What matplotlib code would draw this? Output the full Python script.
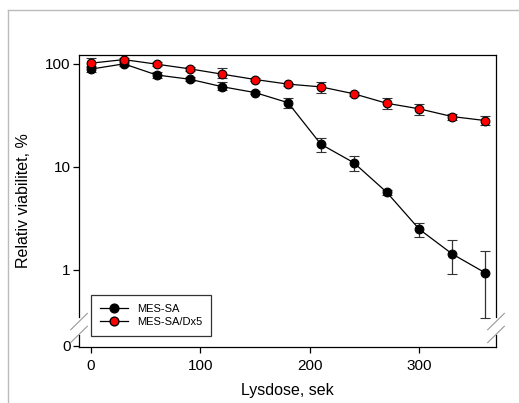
import matplotlib
matplotlib.use("Agg")
import matplotlib.pyplot as plt
from matplotlib.lines import Line2D

plt.rcParams['font.family'] = ['Liberation Sans', 'DejaVu Sans']

# data
lysdose = [0, 30, 60, 90, 120, 150, 180, 210, 240, 270, 300, 330, 360]

mes_sa = [89, 100, 78, 71, 60, 52.6, 42, 16.6, 11.0, 5.7, 2.48, 1.43, 0.94]
mes_sa_lo = [6, 4, 5, 3, 4, 2, 4.8, 2.7, 1.9, 0.3, 0.39, 0.52, 0.60]
mes_sa_hi = [6, 4, 6, 3, 7, 2, 4.8, 2.5, 1.8, 0.3, 0.40, 0.51, 0.60]

dx5 = [101.6, 110, 99.3, 89.5, 79.4, 70.5, 63.6, 59.8, 51.3, 41.5, 36.6, 30.8, 28.2]
dx5_lo = [9, 4, 4, 4, 7, 2, 2, 7.2, 2, 4.8, 4.4, 2.0, 2.6]
dx5_hi = [13, 4, 4, 4, 11, 2, 2, 7.5, 2, 4.8, 4.3, 1.9, 3.1]

ytick_vals = [0.185, 1, 10, 100]
ytick_labels = ['0', '1', '10', '100']
xtick_vals = [0, 100, 200, 300]

fig = plt.figure(figsize=(5.19, 4.03), dpi=100)
ax = fig.add_axes([0.1522, 0.139, 0.8035, 0.7246])

err_kw = dict(ecolor='#333333', elinewidth=0.9, capsize=3.3, capthick=0.9)

ax.errorbar(lysdose, mes_sa, yerr=[mes_sa_lo, mes_sa_hi], color='black', lw=0.9,
            marker='o', ms=6.3, mfc='black', mec='black', mew=0.8, **err_kw)
ax.errorbar(lysdose, dx5, yerr=[dx5_lo, dx5_hi], color='black', lw=0.9,
            marker='o', ms=6.3, mfc='red', mec='black', mew=0.8, **err_kw)

ax.set_yscale('log')
ax.set_ylim(0.179, 122)
ax.set_xlim(-11, 370)
ax.set_yticks(ytick_vals)
ax.set_yticklabels(ytick_labels)
ax.minorticks_off()
ax.set_xticks(xtick_vals)
ax.tick_params(direction='out', length=4, width=0.9, labelsize=11, pad=2)
ax.tick_params(axis='x', pad=5)

ax.set_xlabel('Lysdose, sek', fontsize=11.5, labelpad=7)
ax.set_ylabel('Relativ viabilitet, %', fontsize=11.5, labelpad=10)

# broken left/right spines drawn by hand
for s in ['left', 'right']:
    ax.spines[s].set_visible(False)
for s in ['top', 'bottom']:
    ax.spines[s].set_linewidth(0.9)

gap_top = 0.103
gap_bot = 0.042
for xs in [0, 1]:
    ax.add_line(Line2D([xs, xs], [gap_top, 1], transform=ax.transAxes, color='black',
                       lw=0.9, clip_on=False))
    ax.add_line(Line2D([xs, xs], [0, gap_bot], transform=ax.transAxes, color='black',
                       lw=0.9, clip_on=False))
    for yc in [0.087, 0.043]:
        ax.add_line(Line2D([xs - 0.02, xs + 0.02], [yc - 0.028, yc + 0.028],
                           transform=ax.transAxes, color='#999999', lw=0.8, clip_on=False))

# legend handles without the error bars
handles = [
    Line2D([], [], color='black', lw=0.9, marker='o', ms=6.3, mfc='black', mec='black'),
    Line2D([], [], color='black', lw=0.9, marker='o', ms=6.3, mfc='red', mec='black'),
]
leg = ax.legend(handles, ['MES-SA', 'MES-SA/Dx5'], loc='lower left',
                bbox_to_anchor=(0.028, 0.038), borderaxespad=0,
                fontsize=8, frameon=True, fancybox=False, edgecolor='black',
                handlelength=2.6, borderpad=0.8, labelspacing=0.3)
leg.get_frame().set_linewidth(0.9)

# light gray frame around the picture
fig.add_artist(Line2D([0.016, 1], [0.9744, 0.9744], color='#bbbbbb', lw=1))
fig.add_artist(Line2D([0.016, 0.016], [0, 0.9744], color='#bbbbbb', lw=1))

fig.savefig('out.png', dpi=100)
